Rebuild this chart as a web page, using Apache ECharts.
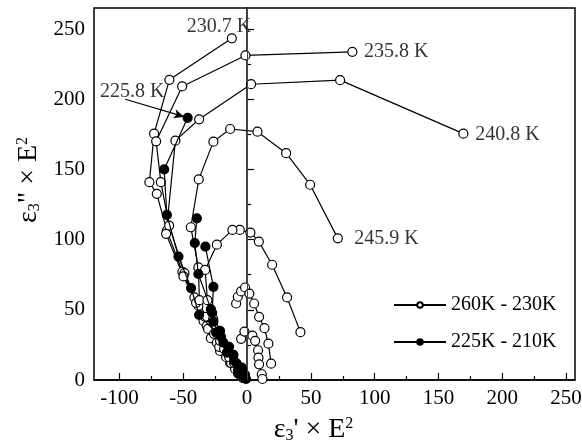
<!DOCTYPE html>
<html>
<head>
<meta charset="utf-8">
<script src="https://cdn.jsdelivr.net/npm/echarts@6/dist/echarts.min.js"></script>
<style>
  html, body { margin: 0; padding: 0; background: #fff; }
  #chart { width: 582px; height: 444px; }
</style>
</head>
<body>
<div id="chart"></div>
<script>
// open circles: 260K - 230K, each list is [eps', eps'']
const t230_7 = [[-12.0,243.4],[-60.9,213.8],[-72.9,175.5],[-76.6,140.9],[-70.8,132.6],[-62.9,106.4],[-50.7,77.1],[-41.3,58.8],[-34.2,42.1],[-28.4,29.8],[-21.2,20.7],[-13.3,12.1],[-7.1,5.0],[-3.1,1.4]];
const t235_8 = [[82.5,233.8],[-1.3,231.2],[-50.9,209.1],[-71.3,170.0],[-67.6,140.9],[-61.1,110.0],[-49.1,76.2],[-38.2,52.9],[-31.6,38.6],[-23.7,26.6],[-16.5,16.4],[-9.4,7.9],[-3.9,2.1]];
const t240_8 = [[169.5,175.5],[72.9,213.6],[3.1,210.7],[-37.6,185.7],[-56.2,170.5],[-63.5,104.1],[-49.9,73.8],[-40.0,55.0],[-30.6,36.4],[-21.9,23.6],[-12.5,12.1],[-5.5,3.6]];
const t245_9 = [[71.1,100.9],[49.4,139.1],[30.6,161.6],[8.1,176.9],[-13.3,178.8],[-26.4,169.8],[-37.9,142.9],[-44.1,108.8],[-38.2,80.2],[-37.4,56.9],[-32.9,45.0],[-25.9,32.9],[-18.0,22.1],[-10.2,12.1],[-4.7,5.0]];
const t250_9 = [[41.8,34.1],[31.3,58.8],[19.6,82.1],[9.2,98.6],[2.6,105.0],[-5.7,106.9],[-11.5,106.9],[-23.7,96.4],[-32.9,78.4],[-31.1,56.9],[-26.6,43.6],[-21.2,27.9],[-14.1,16.4],[-7.1,7.1],[-2.4,2.1]];
const t255_9 = [[-8.6,54.5],[-7.3,59.3],[-4.7,63.1],[-1.6,65.9],[1.8,61.6],[5.5,54.5],[9.4,45.0],[13.6,36.9],[16.7,25.9],[18.8,11.6]];
const t260_9 = [[-4.7,29.3],[-2.1,34.5],[4.2,31.6],[6.3,27.9],[8.6,21.2],[8.9,15.9],[9.4,11.2],[11.5,4.1],[12.0,0.7]];

// filled circles: 225K - 210K
const t225_8 = [[-46.6,186.8],[-65.0,150.0],[-62.9,117.6],[-53.8,87.9],[-43.9,65.5],[-37.6,46.4],[-24.3,33.8],[-15.9,19.5],[-6.8,4.5]];
const t220 = [[-39.4,115.2],[-41.0,97.6],[-38.2,75.5],[-28.4,50.5],[-26.4,41.6],[-18.6,26.6],[-10.7,17.9],[-4.2,8.8],[-1.6,3.6]];
const t215 = [[-32.7,95.0],[-26.4,66.4],[-27.4,47.9],[-21.2,35.0],[-14.1,23.6],[-8.1,11.6],[-3.1,5.0]];
const t210 = [[-20.4,30.7],[-14.9,20.7],[-10.2,13.6],[-6.3,7.9],[-3.1,2.9],[-0.8,0.7]];

const openSets = [t230_7, t235_8, t240_8, t245_9, t250_9, t255_9, t260_9];
const filledSets = [t225_8, t220, t215, t210];

const xMajor = [-100, -50, 0, 50, 100, 150, 200, 250];
const xMinor = [-75, -25, 25, 75, 125, 175, 225];
const yMajor = [0, 50, 100, 150, 200, 250];
const yMinor = [25, 75, 125, 175, 225];

// temperature labels [x, y, text]
const tempLabels = [[-47.3,251.5,'230.7 K'],[91.7,233.8,'235.8 K'],[178.9,174.5,'240.8 K'],[83.9,100.6,'245.9 K'],[-115.2,205.2,'225.8 K']];
const arrowFrom = [-95.5, 200];
const arrowTo = [-49.5, 187.6];

const serif = 'Liberation Serif';
const OPEN = '260K - 230K';
const FILLED = '225K - 210K';

let myChart = echarts.init(document.getElementById('chart'));

function curve(name, data, filled) {
  return {
    name: name,
    type: 'line',
    data: data,
    symbol: 'circle',
    symbolSize: 9,
    showAllSymbol: true,
    animation: false,
    lineStyle: { color: '#000', width: 1.2 },
    itemStyle: { color: filled ? '#000' : '#fff', borderColor: '#000', borderWidth: 1.2 },
    z: filled ? 3 : 2
  };
}

let series = [];
openSets.forEach(d => series.push(curve(OPEN, d, false)));
filledSets.forEach(d => series.push(curve(FILLED, d, true)));

// zero line
series[0].markLine = {
  silent: true,
  symbol: 'none',
  label: { show: false },
  lineStyle: { color: '#444', width: 1, type: 'solid' },
  data: [{ xAxis: 0 }]
};

// text labels + arrow
series.push({
  name: 'labels',
  type: 'scatter',
  symbolSize: 0,
  animation: false,
  data: tempLabels.map(l => ({ value: [l[0], l[1]], text: l[2] })),
  label: {
    show: true,
    position: 'right',
    distance: 0,
    color: '#000',
    fontFamily: serif,
    fontSize: 20,
    formatter: p => p.data.text
  },
  markLine: {
    silent: true,
    symbol: ['none', 'arrow'],
    symbolSize: [7, 10],
    label: { show: false },
    lineStyle: { color: '#000', width: 1.2, type: 'solid' },
    data: [[{ coord: arrowFrom }, { coord: arrowTo }]]
  }
});

let axisNameRich = {
  e: { fontFamily: serif, fontSize: 28, color: '#000', lineHeight: 28, verticalAlign: 'middle' },
  sub: { fontFamily: serif, fontSize: 16, color: '#000', verticalAlign: 'bottom', lineHeight: 28 },
  t: { fontFamily: serif, fontSize: 28, color: '#000', lineHeight: 28, verticalAlign: 'middle' },
  sup: { fontFamily: serif, fontSize: 16, color: '#000', verticalAlign: 'top', lineHeight: 28 }
};

let option = {
  backgroundColor: '#fff',
  animation: false,
  grid: {
    left: 94, right: 7, top: 8, bottom: 64,
    containLabel: false, outerBoundsMode: 'none',
    show: true, borderColor: '#000', borderWidth: 1.5
  },
  legend: {
    data: [OPEN, FILLED],
    orient: 'vertical',
    left: 388,
    top: 290,
    itemWidth: 52,
    itemHeight: 7,
    itemGap: 17,
    textStyle: { fontFamily: serif, fontSize: 20, color: '#000' }
  },
  xAxis: [
    {
      type: 'value', min: -120, max: 257, position: 'bottom',
      axisLine: { lineStyle: { color: '#000', width: 1.5 } },
      axisTick: { inside: true, length: 7, customValues: xMajor, lineStyle: { color: '#000', width: 1.2 } },
      axisLabel: { customValues: xMajor, margin: 8, color: '#000', fontFamily: serif, fontSize: 21 },
      splitLine: { show: false },
      name: '{e|ε}{sub|3}{t|\' × E}{sup|2}',
      nameLocation: 'middle',
      nameGap: 36,
      nameTextStyle: { padding: [0, 42, 0, 0], rich: axisNameRich }
    },
    {
      type: 'value', min: -120, max: 257, position: 'bottom',
      axisLine: { show: false },
      axisTick: { inside: true, length: 4, customValues: xMinor, lineStyle: { color: '#000', width: 1.2 } },
      axisLabel: { show: false },
      splitLine: { show: false }
    }
  ],
  yAxis: [
    {
      type: 'value', min: 0, max: 265, position: 'left',
      axisLine: { show: true, lineStyle: { color: '#000', width: 1.5 } },
      axisTick: { show: true, inside: true, length: 7, customValues: yMajor, lineStyle: { color: '#000', width: 1.2 } },
      axisLabel: { customValues: yMajor, margin: 9, color: '#000', fontFamily: serif, fontSize: 21 },
      splitLine: { show: false },
      name: '{e|ε}{sub|3}{t|" × E}{sup|2}',
      nameLocation: 'middle',
      nameGap: 50,
      nameRotate: 90,
      nameTextStyle: { padding: [0, 0, 0, 28], rich: axisNameRich }
    },
    {
      type: 'value', min: 0, max: 265, position: 'left',
      axisLine: { show: false },
      axisTick: { show: true, inside: true, length: 4, customValues: yMinor, lineStyle: { color: '#000', width: 1.2 } },
      axisLabel: { show: false },
      splitLine: { show: false }
    }
  ],
  series: series
};

myChart.setOption(option);
</script>
</body>
</html>
